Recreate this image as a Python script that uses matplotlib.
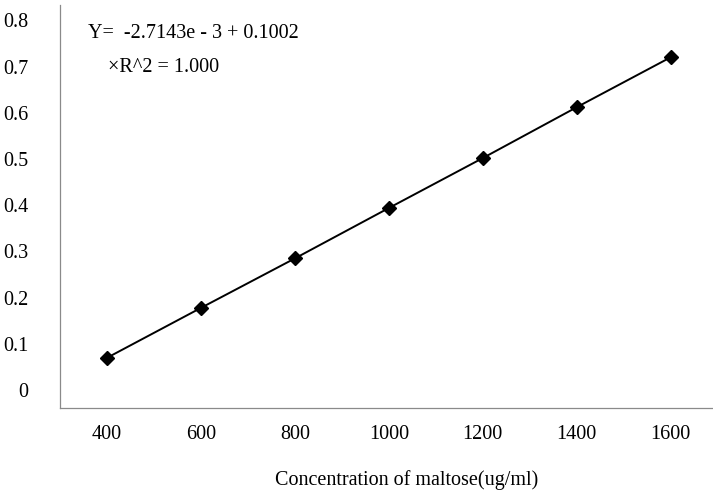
import numpy as np
import matplotlib.pyplot as plt

plt.rcParams['font.family'] = ['Liberation Serif', 'DejaVu Serif']

# data
conc = ['400', '600', '800', '1000', '1200', '1400', '1600']
absorb = [0.070, 0.178, 0.285, 0.394, 0.502, 0.612, 0.720]
y_ticks = [0, 0.1, 0.2, 0.3, 0.4, 0.5, 0.6, 0.7, 0.8]
y_labels = ['0', '0.1', '0.2', '0.3', '0.4', '0.5', '0.6', '0.7', '0.8']

fs = 14.5

fig = plt.figure(figsize=(7.13, 4.91), dpi=100)
ax = fig.add_axes([60 / 713, 1 - 408 / 491, 1 - 60 / 713, 403 / 491])

x = np.arange(len(conc))
ax.plot(x, absorb, color='black', lw=1.4, marker='D', markersize=7.5)

ax.set_xlim(-0.5, 6.45)
ax.set_ylim(-0.0385, 0.833)
ax.set_xticks(x)
ax.set_xticklabels(conc)
ax.set_yticks(y_ticks)
ax.set_yticklabels(y_labels)
ax.tick_params(length=0, labelsize=fs)
ax.tick_params(axis='x', pad=12)
ax.tick_params(axis='y', pad=23)

for s in ['top', 'right']:
    ax.spines[s].set_visible(False)
for s in ['left', 'bottom']:
    ax.spines[s].set_color('#8a8a8a')
    ax.spines[s].set_linewidth(0.9)

ax.set_xlabel('Concentration of maltose(ug/ml)', fontsize=fs, va='center')
ax.xaxis.set_label_coords(0.531, -0.178)

fig.text(88 / 713, 1 - 33 / 491, 'Y=  -2.7143e - 3 + 0.1002', fontsize=fs,
         va='center', ha='left')
fig.text(108 / 713, 1 - 67 / 491, '\u00d7R^2 = 1.000', fontsize=fs,
         va='center', ha='left')

fig.savefig('out.png', dpi=100)
